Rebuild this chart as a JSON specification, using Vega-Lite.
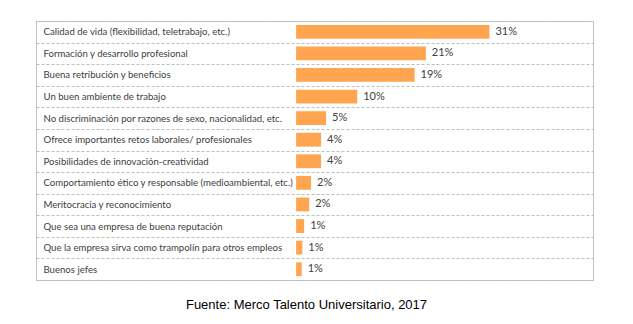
{
  "$schema": "https://vega.github.io/schema/vega-lite/v6.json",
  "width": 557,
  "height": 259,
  "padding": {"left": 36, "top": 16, "right": 40, "bottom": 5},
  "background": "white",
  "config": {
    "view": {"stroke": "#c4c4c4", "strokeWidth": 1},
    "font": "Lato"
  },
  "title": {
    "text": "Fuente: Merco Talento Universitario, 2017",
    "orient": "bottom",
    "anchor": "middle",
    "offset": 19,
    "dx": -8,
    "font": "Liberation Sans",
    "fontSize": 13,
    "fontWeight": "normal",
    "color": "#000000"
  },
  "data": {
    "values": [
      {"motivo": "Calidad de vida (flexibilidad, teletrabajo, etc.)", "valor": 31.0, "etiqueta": "31%"},
      {"motivo": "Formación y desarrollo profesional", "valor": 20.8, "etiqueta": "21%"},
      {"motivo": "Buena retribución y beneficios", "valor": 19.0, "etiqueta": "19%"},
      {"motivo": "Un buen ambiente de trabajo", "valor": 9.8, "etiqueta": "10%"},
      {"motivo": "No discriminación por razones de sexo, nacionalidad, etc.", "valor": 4.8, "etiqueta": "5%"},
      {"motivo": "Ofrece importantes retos laborales/ profesionales", "valor": 4.0, "etiqueta": "4%"},
      {"motivo": "Posibilidades de innovación-creatividad", "valor": 4.0, "etiqueta": "4%"},
      {"motivo": "Comportamiento ético y responsable (medioambiental, etc.)", "valor": 2.4, "etiqueta": "2%"},
      {"motivo": "Meritocracia y reconocimiento", "valor": 2.1, "etiqueta": "2%"},
      {"motivo": "Que sea una empresa de buena reputación", "valor": 1.3, "etiqueta": "1%"},
      {"motivo": "Que la empresa sirva como trampolín para otros empleos", "valor": 1.0, "etiqueta": "1%"},
      {"motivo": "Buenos jefes", "valor": 0.9, "etiqueta": "1%"}
    ]
  },
  "encoding": {
    "y": {
      "field": "motivo",
      "type": "nominal",
      "sort": null,
      "scale": {"paddingInner": 0, "paddingOuter": 0},
      "axis": {
        "title": null,
        "domain": false,
        "ticks": false,
        "labelAlign": "left",
        "labelPadding": -7,
        "labelLimit": 320,
        "labelFont": "Lato",
        "labelFontSize": 9.6,
        "labelColor": "#404040",
        "grid": true,
        "tickBand": "extent",
        "gridColor": "#bdbdbd",
        "gridDash": [3, 2],
        "gridWidth": 1
      }
    },
    "x": {
      "field": "valor",
      "type": "quantitative",
      "scale": {"domain": [-41.7, 47.6], "nice": false, "zero": false},
      "axis": null
    }
  },
  "layer": [
    {
      "mark": {"type": "bar", "color": "#ffa54f", "height": {"band": 0.64}, "x2": {"expr": "scale('x', 0)"}},
      "encoding": {}
    },
    {
      "mark": {"type": "text", "align": "left", "dx": 6, "font": "Lato", "fontSize": 11, "color": "#404040"},
      "encoding": {"text": {"field": "etiqueta"}}
    }
  ]
}
